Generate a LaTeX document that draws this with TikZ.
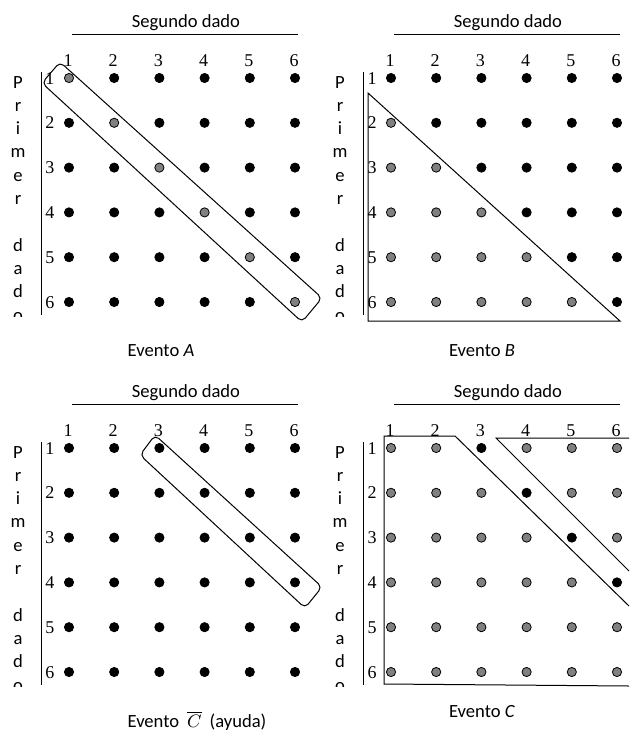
\documentclass[tikz,border=0pt]{standalone}
\usepackage{fontspec}
\setmainfont{Carlito}
\newfontfamily\numfont{Liberation Serif}

\definecolor{dotgray}{HTML}{808080}

\begin{document}
\begin{tikzpicture}[
    x=0.5pt, y=-0.5pt,
    dot/.style={circle, draw=black, line width=0.4pt, minimum size=4.6pt, inner sep=0pt},
    titulo/.style={font=\fontsize{9.3}{11}\selectfont, anchor=base, inner sep=0pt},
    numero/.style={font=\numfont\fontsize{9}{10.8}\selectfont, anchor=base, inner sep=0pt},
    letra/.style={font=\fontsize{9.3}{11}\selectfont, anchor=base, inner sep=0pt},
    evento/.style={font=\fontsize{9.3}{11}\selectfont, anchor=base, inner sep=0pt},
    linea/.style={line width=0.5pt},
    zona/.style={line width=0.5pt, rounded corners=2.5pt}
    ]
    \useasboundingbox (0,0) rectangle (629,734);

    % Frame of each panel
    \foreach \p/\dx/\dy in {tl/0/0, tr/322/0, bl/0/370, br/322/370} {
      \begin{scope}[shift={(\dx,\dy)}]
        \node[titulo] (seg_\p) at (186,27) {Segundo dado};
        \draw[linea] (72,34.3) -- (298,34.3);
        \draw[linea] (41,72) -- (41,315);
        \foreach \colu in {1,...,6}
          \node[numero] (col_\p_\colu) at ({68+45.2*(\colu-1)},66) {\colu};
        \foreach \fila in {1,...,6}
          \node[numero] (fila_\p_\fila) at (50,{84+44.8*(\fila-1)}) {\fila};
        \begin{scope}
          \clip (0,60) rectangle (40,316);
          \foreach \ch/\k in {P/0, r/1, i/2, m/3, e/4, r/5, d/7, a/8, d/9, o/10}
            \node[letra] (let_\p_\k) at (18,{88+23.3*\k}) {\ch};
        \end{scope}
      \end{scope}
    }

    % Evento A
    \foreach \fila in {1,...,6}
      \foreach \colu in {1,...,6} {
        \edef\fc{\ifnum\fila=\colu\space dotgray\else black\fi}
        \node[dot, fill=\fc] (a_\fila_\colu) at ({69+45.2*(\colu-1)},{78+44.8*(\fila-1)}) {};
      }
    \draw[zona] (42,83) -- (60,62) -- (322,298) -- (302,322) -- cycle;
    \node[evento] (ev_a) at (161,356) {Evento \textit{A}};

    % Evento B
    \foreach \fila in {1,...,6}
      \foreach \colu in {1,...,6} {
        \edef\fc{\ifnum\fila>\colu\space dotgray\else black\fi}
        \node[dot, fill=\fc] (b_\fila_\colu) at ({391+45.2*(\colu-1)},{78+44.8*(\fila-1)}) {};
      }
    \draw[line width=0.5pt] (368,93) -- (368,321) -- (620,321) -- cycle;
    \node[evento] (ev_b) at (482,356) {Evento \textit{B}};

    % Evento C complemento
    \foreach \fila in {1,...,6}
      \foreach \colu in {1,...,6}
        \node[dot, fill=black] (cc_\fila_\colu) at ({69+45.2*(\colu-1)},{448+44.8*(\fila-1)}) {};
    \draw[zona] (140,455) -- (155,435) -- (322,587) -- (305,608) -- cycle;
    \node[evento] (ev_cc) at (197,727) {Evento\hspace{4pt}$\overline{C}$\hspace{4pt}(ayuda)};

    % Evento C
    \foreach \fila in {1,...,6}
      \foreach \colu in {1,...,6} {
        \edef\fc{\ifnum\numexpr\colu-\fila\relax=2 black\else dotgray\fi}
        \node[dot, fill=\fc] (c_\fila_\colu) at ({391+45.2*(\colu-1)},{448+44.8*(\fila-1)}) {};
      }
    \draw[line width=0.5pt] (629,606) -- (455,436) -- (384,436) -- (384,684) -- (629,686);
    \draw[line width=0.5pt] (629,438) -- (496,438) -- (629,571);
    \node[evento] (ev_c) at (482,717) {Evento \textit{C}};

\end{tikzpicture}
\end{document}
